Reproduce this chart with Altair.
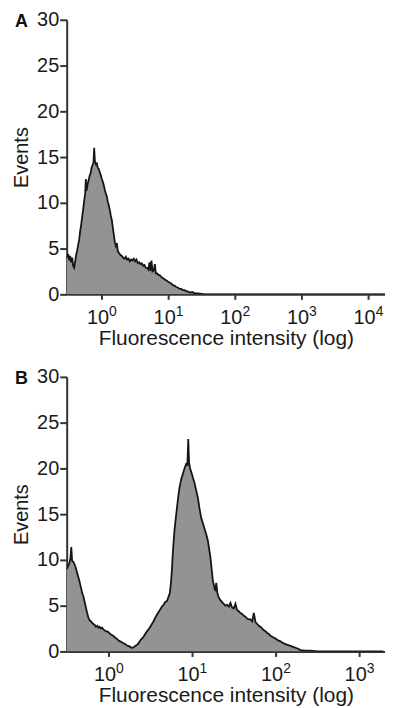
import altair as alt
import pandas as pd

# ---- Panel A histogram (log10 intensity, events) ----
a_log_x = [-0.52, -0.50, -0.485, -0.47, -0.455, -0.44, -0.425, -0.41, -0.395, -0.38,
           -0.365, -0.35, -0.335, -0.32, -0.305, -0.29, -0.275, -0.26, -0.245, -0.235,
           -0.225, -0.21, -0.195, -0.18, -0.165, -0.15, -0.135, -0.12, -0.11, -0.10,
           -0.085, -0.07, -0.055, -0.04, -0.025, -0.01, 0.005, 0.02, 0.035, 0.05,
           0.065, 0.08, 0.095, 0.11, 0.125, 0.14, 0.155, 0.17, 0.185, 0.20,
           0.215, 0.23, 0.245, 0.265, 0.285, 0.305, 0.325, 0.345, 0.365, 0.385,
           0.405, 0.425, 0.445, 0.465, 0.485, 0.505, 0.525, 0.545, 0.565, 0.585,
           0.605, 0.625, 0.645, 0.665, 0.685, 0.705, 0.72, 0.735, 0.75, 0.765,
           0.785, 0.80, 0.815, 0.835, 0.855, 0.875, 0.895, 0.915, 0.935, 0.955,
           0.975, 0.995, 1.02, 1.045, 1.07, 1.095, 1.12, 1.145, 1.17, 1.195,
           1.22, 1.245, 1.27, 1.30, 1.33, 1.36, 1.40, 1.45, 1.50, 1.55, 4.30]
a_events = [4.0, 4.4, 3.7, 4.2, 3.5, 4.0, 3.1, 2.9, 3.6, 4.3,
            4.8, 5.4, 6.0, 6.9, 7.6, 8.5, 9.3, 10.2, 11.0, 12.6,
            11.3, 12.0, 12.4, 12.9, 13.2, 13.8, 14.1, 14.4, 16.0, 14.6,
            14.2, 14.3, 13.8, 13.7, 13.3, 13.0, 12.6, 12.3, 11.9, 11.4,
            11.0, 10.7, 10.1, 9.7, 9.2, 8.6, 8.1, 7.3, 6.5, 5.7,
            5.3, 5.6, 4.7, 4.5, 4.3, 4.2, 4.0, 3.9, 4.1, 3.8,
            3.9, 3.6, 3.8, 3.7, 3.9, 3.6, 3.8, 3.4, 3.5, 3.3,
            3.4, 3.1, 3.2, 2.9, 2.9, 2.7, 3.5, 2.6, 3.7, 2.5,
            2.6, 3.3, 2.3, 2.3, 2.1, 2.1, 1.9, 1.8, 1.7, 1.6,
            1.5, 1.4, 1.3, 1.2, 1.0, 0.95, 0.8, 0.75, 0.6, 0.6,
            0.45, 0.45, 0.35, 0.3, 0.2, 0.25, 0.1, 0.1, 0.05, 0.0, 0.0]

# ---- Panel B histogram (log10 intensity, events) ----
b_log_x = [-0.50, -0.485, -0.47, -0.455, -0.445, -0.435, -0.42, -0.405, -0.39, -0.375,
           -0.36, -0.345, -0.33, -0.315, -0.30, -0.285, -0.27, -0.255, -0.24, -0.225,
           -0.21, -0.195, -0.18, -0.165, -0.15, -0.135, -0.12, -0.105, -0.09, -0.075,
           -0.06, -0.045, -0.03, -0.015, 0.0, 0.02, 0.04, 0.06, 0.08, 0.10,
           0.12, 0.14, 0.16, 0.18, 0.20, 0.22, 0.24, 0.26, 0.28, 0.30,
           0.32, 0.34, 0.36, 0.38, 0.40, 0.42, 0.44, 0.46, 0.48, 0.50,
           0.52, 0.54, 0.56, 0.58, 0.60, 0.62, 0.64, 0.66, 0.68, 0.70,
           0.72, 0.735, 0.75, 0.76, 0.77, 0.78, 0.79, 0.805, 0.82, 0.835,
           0.85, 0.87, 0.89, 0.91, 0.93, 0.945, 0.955, 0.965, 0.98, 0.995,
           1.01, 1.03, 1.05, 1.07, 1.09, 1.11, 1.13, 1.15, 1.17, 1.19,
           1.205, 1.22, 1.235, 1.25, 1.265, 1.28, 1.29, 1.305, 1.32, 1.34,
           1.36, 1.38, 1.40, 1.42, 1.44, 1.46, 1.48, 1.50, 1.52, 1.54,
           1.56, 1.58, 1.60, 1.62, 1.64, 1.66, 1.68, 1.70, 1.72, 1.74,
           1.76, 1.78, 1.80, 1.82, 1.84, 1.86, 1.88, 1.90, 1.92, 1.94,
           1.96, 1.98, 2.00, 2.03, 2.06, 2.09, 2.12, 2.15, 2.18, 2.21,
           2.24, 2.27, 2.30, 2.35, 2.40, 2.45, 2.50, 3.29]
b_events = [9.0, 9.3, 9.6, 10.2, 11.4, 9.9, 9.8, 9.5, 9.1, 8.6,
            8.1, 7.6, 7.0, 6.4, 6.0, 5.4, 4.8, 4.2, 3.7, 3.4,
            3.3, 3.1, 3.0, 2.9, 2.7, 2.8, 2.6, 2.7, 2.5, 2.6,
            2.4, 2.3, 2.2, 2.2, 2.1, 1.9, 1.8, 1.7, 1.5, 1.4,
            1.2, 1.1, 1.0, 0.9, 0.8, 0.65, 0.6, 0.5, 0.4, 0.45,
            0.6, 0.7, 0.9, 1.2, 1.4, 1.6, 1.9, 2.2, 2.4, 2.7,
            3.0, 3.3, 3.7, 4.0, 4.3, 4.6, 4.9, 5.1, 5.4, 5.5,
            6.0, 6.4, 7.7, 9.0, 10.7, 12.0, 13.2, 14.5, 15.7, 16.9,
            17.9, 18.8, 19.4, 20.0, 20.5, 20.4, 23.2, 20.6, 19.9, 19.5,
            19.0, 18.4, 17.6, 16.8, 15.6, 14.6, 14.0, 13.4, 12.8, 12.1,
            11.2, 10.3, 9.0, 7.7, 7.1, 6.6, 7.5, 6.3, 5.9, 5.6,
            5.4, 5.2, 5.0, 5.1, 4.9, 5.3, 4.8, 4.7, 5.2, 4.5,
            4.4, 4.2, 4.1, 3.9, 3.8, 3.6, 3.5, 3.5, 3.3, 4.2,
            3.2, 3.0, 2.8, 2.7, 2.5, 2.3, 2.2, 2.0, 1.9, 1.7,
            1.6, 1.5, 1.4, 1.2, 1.1, 0.9, 0.8, 0.7, 0.6, 0.5,
            0.4, 0.3, 0.15, 0.1, 0.1, 0.05, 0.0, 0.0]

a_ticks = [1, 10, 100, 1000, 10000]
b_ticks = [1, 10, 100, 1000]
a_exponents = ["0", "1", "2", "3", "4"]
b_exponents = ["0", "1", "2", "3"]
a_domain_exp = [-0.5224, 4.2537]
b_domain_exp = [-0.5, 3.31]
y_ticks = [0, 5, 10, 15, 20, 25, 30]
x_title = "Fluorescence intensity (log)"
y_title = "Events"

FONT = "Liberation Sans"
PLOT_W = 320
PLOT_H = 276


def panel(log_x, events, ticks, exps, dom, letter):
    df = pd.DataFrame({"intensity": [10 ** e for e in log_x], "events": events})
    tick_df = pd.DataFrame({"intensity": ticks, "exp": exps})
    xscale = alt.Scale(type="log", domain=[10 ** dom[0], 10 ** dom[1]], nice=False)
    x = alt.X(
        "intensity:Q", scale=xscale,
        axis=alt.Axis(values=ticks, labelExpr="'10'", title=x_title, grid=False,
                      tickSize=5, labelPadding=8, labelOffset=-4, titlePadding=0,
                      titleFontSize=21, labelFlush=False),
    )
    y = alt.Y(
        "events:Q",
        scale=alt.Scale(domain=[0, 30], nice=False),
        axis=alt.Axis(values=y_ticks, title=y_title, grid=False, tickSize=7,
                      labelPadding=1, titlePadding=5),
    )
    base = alt.Chart(df)
    area = base.mark_area(color="#939393", clip=True).encode(x=x, y=y)
    line = base.mark_line(color="#151515", strokeWidth=1.8, clip=True).encode(
        x="intensity:Q", y="events:Q")
    sup = alt.Chart(tick_df).mark_text(
        font=FONT, fontSize=14, align="center", baseline="alphabetic",
        color="#1a1a1a", dx=11.5).encode(
        x=alt.X("intensity:Q", scale=xscale), y=alt.value(PLOT_H + 22), text="exp:N")
    tag = alt.Chart(pd.DataFrame({"t": [letter]})).mark_text(
        font=FONT, fontSize=18, fontWeight="bold", align="left",
        baseline="middle", color="#111").encode(
        text="t:N", x=alt.value(-52), y=alt.value(2))
    return alt.layer(area, line, sup, tag).properties(width=PLOT_W, height=PLOT_H)


chart = alt.vconcat(
    panel(a_log_x, a_events, a_ticks, a_exponents, a_domain_exp, "A"),
    panel(b_log_x, b_events, b_ticks, b_exponents, b_domain_exp, "B"),
    spacing=19,
).properties(
    padding={"left": 3, "top": 0, "right": 0, "bottom": 0}
).configure_view(stroke=None).configure_axis(
    domainColor="#333333", domainWidth=2, tickColor="#333333", tickWidth=2,
    labelFont=FONT, labelFontSize=20, labelColor="#1a1a1a",
    titleFont=FONT, titleFontSize=20, titleFontWeight="normal", titleColor="#1a1a1a",
)

chart.save("out.html", embed_options={"renderer": "svg", "actions": False})
